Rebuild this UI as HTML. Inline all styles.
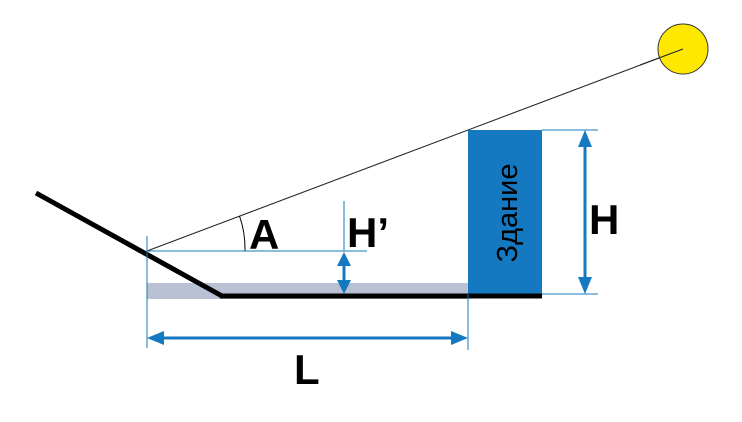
<!DOCTYPE html>
<html><head><style>html,body{margin:0;padding:0;background:#fff}svg{display:block}</style></head>
<body>
<svg width="742" height="422" viewBox="0 0 742 422" xmlns="http://www.w3.org/2000/svg">
<rect x="147" y="283" width="321" height="16" fill="#b9c2d4"/>
<rect x="468" y="130" width="74" height="164" fill="#1479c0"/>
<text transform="translate(517,213) rotate(-90)" text-anchor="middle" font-family="Liberation Sans, sans-serif" font-size="29" fill="#000">Здание</text>
<line x1="36" y1="193" x2="222" y2="296" stroke="#000" stroke-width="5"/>
<line x1="220" y1="296" x2="542" y2="296" stroke="#000" stroke-width="5"/>
<line x1="147" y1="251" x2="683" y2="49" stroke="#222" stroke-width="1"/>
<circle cx="683" cy="49" r="25" fill="#ffe800" stroke="#333" stroke-width="1"/>
<line x1="640" y1="65" x2="683" y2="49" stroke="#222" stroke-width="1"/>
<path d="M 239.5 216 A 98 98 0 0 1 245 251" fill="none" stroke="#000" stroke-width="1"/>
<g stroke="#1479c0" stroke-width="1" fill="none">
<line x1="147" y1="236" x2="147" y2="348"/>
<line x1="147" y1="251" x2="367" y2="251"/>
<line x1="344" y1="201" x2="344" y2="251"/>
<line x1="468" y1="294" x2="468" y2="350"/>
<line x1="542" y1="130" x2="598" y2="130"/>
<line x1="542" y1="294" x2="598" y2="294"/>
</g>
<g stroke="#1479c0" stroke-width="3">
<line x1="160" y1="338" x2="455" y2="338"/>
<line x1="585" y1="143" x2="585" y2="281"/>
<line x1="344" y1="262" x2="344" y2="283"/>
</g>
<g fill="#1479c0">
<polygon points="147,338 164,331 164,345"/>
<polygon points="468,338 451,331 451,345"/>
<polygon points="585,130 578,147 592,147"/>
<polygon points="585,294 578,277 592,277"/>
<polygon points="344,252 337,266 351,266"/>
<polygon points="344,294 337,280 351,280"/>
</g>
<g font-family="Liberation Sans, sans-serif" font-weight="bold" font-size="42" fill="#000">
<text x="249" y="249">A</text>
<text x="347" y="247">H’</text>
<text x="589" y="234">H</text>
<text x="294" y="384">L</text>
</g>
</svg>
</body></html>
